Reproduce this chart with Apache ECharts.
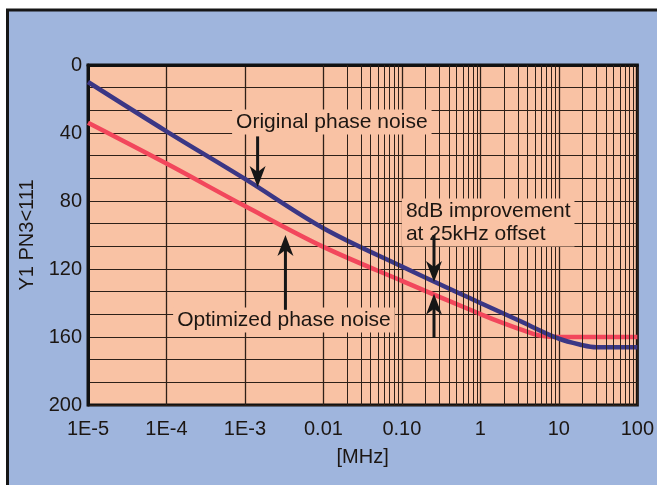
<!DOCTYPE html>
<html>
<head>
<meta charset="utf-8">
<script src="https://cdn.jsdelivr.net/npm/echarts@6/dist/echarts.min.js"></script>
<style>
  html, body { margin: 0; padding: 0; background: #fff; }
  #chart { width: 657px; height: 485px; }
</style>
</head>
<body>
<div id="chart"></div>
<script>
// frequency offset in MHz, phase noise in dB (axis is drawn inverted)
var xTickLabels = ['1E-5', '1E-4', '1E-3', '0.01', '0.10', '1', '10', '100'];
var origFreq = [1e-5, 1e-4, 1e-3, 1e-2, 0.1, 1, 3, 10, 20, 30, 100];
var origDb = [10, 39, 67, 96, 118.5, 140, 150, 161, 164.8, 166, 166];
var optFreq = [1e-5, 1e-4, 1e-3, 1e-2, 0.1, 1, 2, 4, 6, 10, 100];
var optDb = [34, 58, 83, 107, 127, 146.5, 152, 157, 159.3, 160, 160];

// log grid: minor lines at 2..9 of each decade
var decades = [1e-5, 1e-4, 1e-3, 1e-2, 1e-1, 1, 10];
var mantissas = [2, 3, 4, 5, 6, 7, 8, 9];

// annotations (data coordinates)
var notes = [
  { text: 'Original phase noise', at: [0.0128, 33.5], align: 'center', size: 21 },
  { text: '8dB improvement\nat 25kHz offset', at: [0.1, 92.6], align: 'left', size: 21 },
  { text: 'Optimized phase noise', at: [0.00314, 150], align: 'center', size: 21 }
];
var arrowFreq = [0.00145, 0.00328, 0.2565, 0.2565];
var arrowFrom = [42, 144, 100, 160.6];
var arrowTip = [71.8, 100, 127.6, 134.5];

var ink = '#1c1612';
var gridInk = '#2e2018';
var panel = '#9fb5dd';
var paper = '#f9c2a4';
var font = '"Liberation Sans", Arial, sans-serif';

var minorX = [];
decades.forEach(function (d) {
  mantissas.forEach(function (m) { minorX.push({ xAxis: m * d }); });
});

var chart = echarts.init(document.getElementById('chart'), null, { renderer: 'canvas' });
chart.setOption({
  animation: false,
  backgroundColor: '#ffffff',
  textStyle: { fontFamily: font },
  grid: {
    left: 88, top: 65, right: 18, bottom: 80,
    show: true,
    backgroundColor: paper,
    borderColor: '#111',
    borderWidth: 3
  },
  xAxis: {
    type: 'log',
    logBase: 10,
    min: 1e-5,
    max: 100,
    splitNumber: 7,
    name: '[MHz]',
    nameLocation: 'middle',
    nameGap: 42,
    nameTextStyle: { color: ink, fontSize: 20, fontFamily: font },
    axisLine: { show: true, lineStyle: { color: '#111', width: 3 } },
    axisTick: { show: false },
    axisLabel: {
      color: ink, fontSize: 20, margin: 14, fontFamily: font,
      formatter: function (v, i) { return xTickLabels[i]; }
    },
    splitLine: { show: true, lineStyle: { color: gridInk, width: 1.3 } }
  },
  yAxis: {
    type: 'value',
    inverse: true,
    min: 0,
    max: 200,
    interval: 40,
    name: 'Y1 PN3<111',
    nameLocation: 'middle',
    nameGap: 51,
    nameTextStyle: { color: ink, fontSize: 20, fontFamily: font },
    axisLine: { show: true, lineStyle: { color: '#111', width: 3 } },
    axisTick: { show: false },
    axisLabel: { color: ink, fontSize: 20, margin: 6, fontFamily: font },
    splitLine: { show: true, lineStyle: { color: gridInk, width: 1.2 } },
    minorTick: { show: false, splitNumber: 3 },
    minorSplitLine: { show: true, lineStyle: { color: gridInk, width: 1.2 } }
  },
  series: [
    {
      name: 'grid',
      type: 'line',
      data: [],
      z: 1,
      markLine: {
        silent: true,
        symbol: 'none',
        label: { show: false },
        lineStyle: { color: gridInk, width: 1, type: 'solid' },
        data: minorX
      }
    },
    {
      name: 'Optimized phase noise',
      type: 'line',
      z: 3,
      smooth: 0.35,
      showSymbol: false,
      data: optFreq.map(function (f, i) { return [f, optDb[i]]; }),
      lineStyle: { color: '#f2475c', width: 4.5 }
    },
    {
      name: 'Original phase noise',
      type: 'line',
      z: 4,
      smooth: 0.35,
      showSymbol: false,
      data: origFreq.map(function (f, i) { return [f, origDb[i]]; }),
      lineStyle: { color: '#3b3785', width: 4.5 }
    }
  ]
});

// panel, annotations and arrows, placed through the chart's own scales
var g = [{
  type: 'rect', z: -10, silent: true,
  shape: { x: 7.5, y: 10, width: 700, height: 520 },
  style: { fill: panel, stroke: '#161616', lineWidth: 3 }
}];
notes.forEach(function (n) {
  var p = chart.convertToPixel({ gridIndex: 0 }, n.at);
  g.push({
    type: 'text', z: 50, silent: true,
    x: p[0], y: p[1],
    style: {
      text: n.text, fill: ink, font: n.size + 'px ' + font,
      align: n.align, verticalAlign: 'middle', lineHeight: 23,
      backgroundColor: paper, padding: [1, 4]
    }
  });
});
arrowFreq.forEach(function (f, i) {
  var a = chart.convertToPixel({ gridIndex: 0 }, [f, arrowFrom[i]]);
  var b = chart.convertToPixel({ gridIndex: 0 }, [f, arrowTip[i]]);
  var dir = b[1] > a[1] ? 1 : -1;
  var x = b[0], y = b[1];
  g.push({
    type: 'line', z: 60, silent: true,
    shape: { x1: a[0], y1: a[1], x2: x, y2: y - dir * 10 },
    style: { stroke: '#161616', lineWidth: 3 }
  });
  g.push({
    type: 'polygon', z: 60, silent: true,
    shape: { points: [[x, y], [x - 8, y - dir * 21], [x, y - dir * 15], [x + 8, y - dir * 21]] },
    style: { fill: '#161616' }
  });
});
chart.setOption({ graphic: g });
</script>
</body>
</html>
